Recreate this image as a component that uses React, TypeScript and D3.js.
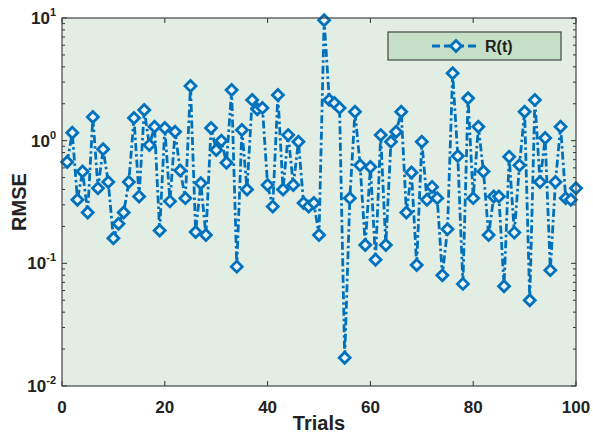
import React from "react";
import * as d3 from "d3";

const trials: number[] = Array.from({ length: 100 }, (_, i) => i + 1);
const rmse: number[] = [
  0.67, 1.16, 0.33, 0.56, 0.26, 1.56, 0.41, 0.85, 0.46, 0.16,
  0.21, 0.26, 0.46, 1.53, 0.35, 1.78, 0.92, 1.3, 0.185, 1.27,
  0.32, 1.18, 0.57, 0.34, 2.79, 0.18, 0.45, 0.17, 1.27, 0.84,
  1.0, 0.66, 2.59, 0.094, 1.22, 0.4, 2.15, 1.8, 1.85, 0.435,
  0.29, 2.36, 0.4, 1.11, 0.435, 0.98, 0.31, 0.29, 0.31, 0.17,
  9.6, 2.15, 2.03, 1.85, 0.017, 0.34, 1.72, 0.63, 0.141, 0.61,
  0.107, 1.11, 0.141, 0.98, 1.18, 1.72, 0.26, 0.55, 0.097, 0.98,
  0.33, 0.42, 0.34, 0.08, 0.19, 3.54, 0.75, 0.068, 2.22, 0.34,
  1.3, 0.56, 0.17, 0.35, 0.35, 0.065, 0.74, 0.178, 0.63, 1.72,
  0.05, 2.15, 0.46, 1.05, 0.088, 0.46, 1.3, 0.34, 0.33, 0.41,
];
const xTicks: number[] = [0, 20, 40, 60, 80, 100];
const yTickExps: number[] = [-2, -1, 0, 1];
const seriesName = "R(t)";

const W = 593, H = 433;
const L = 62, R = 576, T = 18, B = 386;
const BLUE = "#0072BD";
const FONT = "'Liberation Sans', Arial, sans-serif";
const LW = 2.8;
const DASH = "8,3,2.5,3";

export default function App() {
  const x = d3.scaleLinear().domain([0, 100]).range([L, R]);
  const y = d3.scaleLog().domain([0.01, 10]).range([B, T]);
  const line = d3
    .line<number>()
    .x((_, i) => x(trials[i]))
    .y((d) => y(d));
  const diamond = (cx: number, cy: number, s = 5.5) =>
    `M${cx},${cy - s}L${cx + s},${cy}L${cx},${cy + s}L${cx - s},${cy}Z`;

  const minor: number[] = [];
  for (let e = -2; e < 1; e++) for (let m = 2; m <= 9; m++) minor.push(m * Math.pow(10, e));

  const legX = 388, legY = 32, legW = 173, legH = 28;

  return (
    <svg
      width={W}
      height={H}
      style={{ position: "absolute", left: 0, top: 0, background: "#fff" }}
      fontFamily={FONT}
    >
      <rect x={L} y={T} width={R - L} height={B - T} fill="#E2EDE3" />
      {minor.map((v, i) => (
        <g key={"mn" + i} stroke="#333" strokeWidth={1}>
          <line x1={L} x2={L + 3} y1={y(v)} y2={y(v)} />
          <line x1={R} x2={R - 3} y1={y(v)} y2={y(v)} />
        </g>
      ))}
      {yTickExps.map((e) => {
        const yy = y(Math.pow(10, e));
        return (
          <g key={"yt" + e}>
            <line x1={L} x2={L + 5} y1={yy} y2={yy} stroke="#333" />
            <line x1={R} x2={R - 5} y1={yy} y2={yy} stroke="#333" />
            <text x={56} y={yy + 6} textAnchor="end" fontWeight="bold" fontSize={17} fill="#222">
              10
              <tspan dy={-8} fontSize={11}>
                {String(e)}
              </tspan>
            </text>
          </g>
        );
      })}
      {xTicks.map((t) => (
        <g key={"xt" + t}>
          <line x1={x(t)} x2={x(t)} y1={B} y2={B - 5} stroke="#333" />
          <line x1={x(t)} x2={x(t)} y1={T} y2={T + 5} stroke="#333" />
          <text x={x(t)} y={B + 27} textAnchor="middle" fontWeight="bold" fontSize={17} fill="#222">
            {t}
          </text>
        </g>
      ))}
      <path
        d={line(rmse) || ""}
        fill="none"
        stroke={BLUE}
        strokeWidth={LW}
        strokeDasharray={DASH}
      />
      {rmse.map((v, i) => (
        <path
          key={"m" + i}
          d={diamond(x(trials[i]), y(v))}
          fill="#EAF2FA"
          stroke={BLUE}
          strokeWidth={2.8}
        />
      ))}
      <rect x={L} y={T} width={R - L} height={B - T} fill="none" stroke="#444" strokeWidth={1.2} />
      <rect x={legX} y={legY} width={legW} height={legH} fill="#C6E0C8" stroke="#444" strokeWidth={1.2} />
      <line
        x1={legX + 44}
        x2={legX + 92}
        y1={legY + 14}
        y2={legY + 14}
        stroke={BLUE}
        strokeWidth={LW}
        strokeDasharray="8,4"
      />
      <path d={diamond(legX + 68, legY + 14)} fill="#EAF2FA" stroke={BLUE} strokeWidth={2.8} />
      <text x={legX + 97} y={legY + 20} fontWeight="bold" fontSize={16} fill="#222">
        {seriesName}
      </text>
      <text x={(L + R) / 2} y={430} textAnchor="middle" fontWeight="bold" fontSize={20} fill="#222">
        Trials
      </text>
      <text
        transform={`translate(26,${(T + B) / 2}) rotate(-90)`}
        textAnchor="middle"
        fontWeight="bold"
        fontSize={20}
        fill="#222"
      >
        RMSE
      </text>
    </svg>
  );
}
